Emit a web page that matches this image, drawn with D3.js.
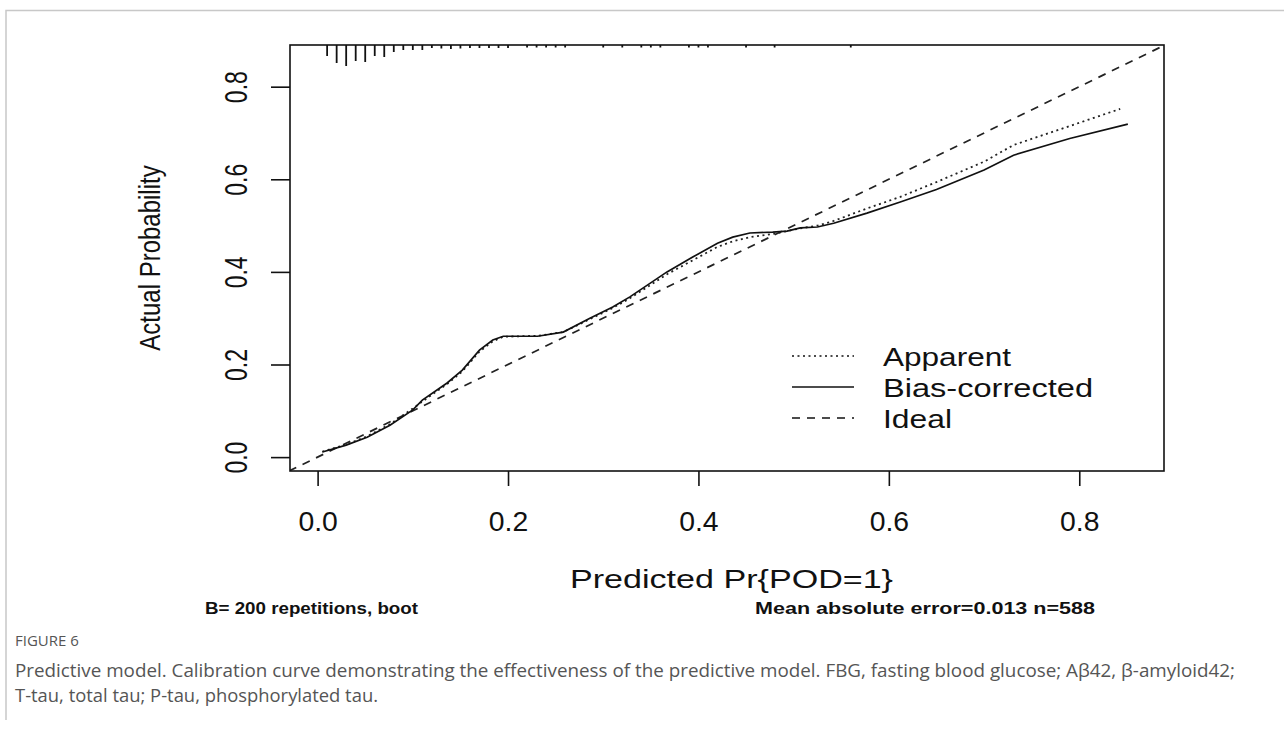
<!DOCTYPE html>
<html>
<head>
<meta charset="utf-8">
<script src="https://cdn.jsdelivr.net/npm/d3@7"></script>
<style>
  body { margin: 0; background: #fff; }
  text { font-family: "Liberation Sans", Arial, sans-serif; fill: #111; }
  .cap { font-family: "Open Sans", "Noto Sans", sans-serif; fill: #555; }
</style>
</head>
<body>
<div id="viz"></div>
<script>
// values
var xTicks = [0, 0.2, 0.4, 0.6, 0.8];
var yTicks = [0, 0.2, 0.4, 0.6, 0.8];

// bias-corrected curve
var biasX = [0.005, 0.03, 0.052, 0.076, 0.10, 0.11, 0.136, 0.152, 0.17, 0.184, 0.195, 0.231, 0.258, 0.286, 0.31, 0.328, 0.367, 0.394, 0.42, 0.436, 0.454, 0.478, 0.493, 0.507, 0.525, 0.542, 0.577, 0.612, 0.65, 0.70, 0.731, 0.79, 0.851];
var biasY = [0.011, 0.026, 0.043, 0.069, 0.102, 0.123, 0.160, 0.188, 0.231, 0.253, 0.261, 0.261, 0.270, 0.300, 0.324, 0.346, 0.400, 0.432, 0.462, 0.475, 0.484, 0.486, 0.488, 0.495, 0.497, 0.505, 0.527, 0.551, 0.578, 0.620, 0.652, 0.688, 0.719];

// apparent curve
var appX = [0.005, 0.03, 0.052, 0.076, 0.10, 0.11, 0.136, 0.152, 0.17, 0.184, 0.195, 0.231, 0.258, 0.286, 0.31, 0.328, 0.367, 0.394, 0.42, 0.436, 0.454, 0.478, 0.493, 0.507, 0.525, 0.542, 0.577, 0.612, 0.65, 0.70, 0.731, 0.79, 0.843];
var appY = [0.012, 0.027, 0.045, 0.071, 0.105, 0.120, 0.158, 0.185, 0.228, 0.250, 0.260, 0.262, 0.270, 0.298, 0.322, 0.343, 0.395, 0.425, 0.454, 0.466, 0.475, 0.482, 0.488, 0.494, 0.500, 0.510, 0.537, 0.562, 0.594, 0.638, 0.674, 0.715, 0.752];

// ideal line
var idealX = [-0.03, 0.89];
var idealY = [-0.03, 0.89];

// distribution of predicted risk (rug on top)
var rugX = [0.01, 0.02, 0.03, 0.04, 0.05, 0.06, 0.07, 0.08, 0.09, 0.10, 0.11, 0.12, 0.13, 0.14, 0.15, 0.16, 0.17, 0.18, 0.19, 0.20,
            0.22, 0.23, 0.24, 0.25, 0.26, 0.30, 0.32, 0.34, 0.35, 0.36, 0.39, 0.40, 0.41, 0.45, 0.48, 0.56];
var rugN = [11, 18, 21, 16, 17, 11, 12, 7, 5, 5, 5, 3, 3.5, 4, 3.5, 3, 3, 3, 3, 3,
            2.5, 2.5, 2.5, 2.5, 2.5, 2.5, 2.5, 2.5, 2.5, 2.5, 2.5, 2.5, 2.5, 2.5, 2.5, 2.5];

var legendNames = ['Apparent', 'Bias-corrected', 'Ideal'];
var captionLines = [
  'Predictive model. Calibration curve demonstrating the effectiveness of the predictive model. FBG, fasting blood glucose; A\u03b242, \u03b2-amyloid42;',
  'T-tau, total tau; P-tau, phosphorylated tau.'
];

var width = 1284;
var height = 731;
var box = { left: 290, right: 1164, top: 45, bottom: 471 };
var sx = 1.35; // the figure is stretched sideways

var svg = d3.select('#viz').append('svg')
    .attr('width', width)
    .attr('height', height);

// figure frame
svg.append('path')
    .attr('d', 'M6,720 V10.5 H1284')
    .attr('fill', 'none')
    .attr('stroke', '#c8c8c8')
    .attr('stroke-width', 1.5);

var x = d3.scaleLinear().domain([-0.029, 0.889]).range([box.left, box.right]);
var y = d3.scaleLinear().domain([-0.030, 0.890]).range([box.bottom, box.top]);

svg.append('clipPath').attr('id', 'clip')
  .append('rect')
    .attr('x', box.left).attr('y', box.top)
    .attr('width', box.right - box.left).attr('height', box.bottom - box.top);

var plot = svg.append('g').attr('clip-path', 'url(#clip)');

var line = d3.line()
    .x(function(d) { return x(d[0]); })
    .y(function(d) { return y(d[1]); });

function pairs(a, b) { return a.map(function(v, i) { return [v, b[i]]; }); }

plot.append('path')
    .attr('d', line(pairs(idealX, idealY)))
    .attr('fill', 'none').attr('stroke', '#222')
    .attr('stroke-width', 1.7).attr('stroke-dasharray', '8,7');

plot.append('path')
    .attr('d', line(pairs(appX, appY)))
    .attr('fill', 'none').attr('stroke', '#222')
    .attr('stroke-width', 1.8).attr('stroke-dasharray', '2,3.5');

plot.append('path')
    .attr('d', line(pairs(biasX, biasY)))
    .attr('fill', 'none').attr('stroke', '#111')
    .attr('stroke-width', 1.7);

// rug
var rugLen = d3.scaleLinear().domain([0, 21]).range([0, 21]);
plot.selectAll('.rug')
    .data(pairs(rugX, rugN))
    .enter().append('line')
    .attr('class', 'rug')
    .attr('x1', function(d) { return x(d[0]); })
    .attr('x2', function(d) { return x(d[0]); })
    .attr('y1', box.top)
    .attr('y2', function(d) { return box.top + rugLen(d[1]); })
    .attr('stroke', '#111')
    .attr('stroke-width', 1.8);

// box
svg.append('rect')
    .attr('x', box.left).attr('y', box.top)
    .attr('width', box.right - box.left).attr('height', box.bottom - box.top)
    .attr('fill', 'none').attr('stroke', '#111').attr('stroke-width', 1.6);

// x axis
var xAxis = svg.append('g')
    .attr('transform', 'translate(0,' + box.bottom + ')')
    .call(d3.axisBottom(x).tickValues(xTicks).tickFormat(d3.format('.1f')).tickSize(15).tickSizeOuter(0));
xAxis.select('.domain').remove();
xAxis.selectAll('line').attr('stroke', '#111').attr('stroke-width', 1.6);
xAxis.selectAll('text')
    .attr('y', null).attr('dy', null)
    .attr('transform', 'translate(0,60) scale(1.05,1)')
    .style('font-size', '27px')
    .style('font-family', '"Liberation Sans", Arial, sans-serif')
    .attr('fill', '#111');

// y axis
var yAxis = svg.append('g')
    .attr('transform', 'translate(' + box.left + ',0)')
    .call(d3.axisLeft(y).tickValues(yTicks).tickFormat(d3.format('.1f')).tickSize(19).tickSizeOuter(0));
yAxis.select('.domain').remove();
yAxis.selectAll('line').attr('stroke', '#111').attr('stroke-width', 1.6);
yAxis.selectAll('text')
    .attr('x', null).attr('dy', null)
    .attr('text-anchor', 'middle')
    .attr('transform', 'translate(-43,0) scale(' + sx + ',1) rotate(-90)')
    .style('font-size', '23px')
    .style('font-family', '"Liberation Sans", Arial, sans-serif')
    .attr('fill', '#111');

// axis titles
svg.append('text')
    .attr('transform', 'translate(160,258) scale(1.2,1) rotate(-90)')
    .attr('text-anchor', 'middle')
    .style('font-size', '24px')
    .text('Actual Probability');

svg.append('text')
    .attr('x', 570).attr('y', 588)
    .attr('textLength', 323).attr('lengthAdjust', 'spacingAndGlyphs')
    .style('font-size', '26px')
    .text('Predicted Pr{POD=1}');

svg.append('text')
    .attr('x', 205).attr('y', 614)
    .attr('textLength', 213).attr('lengthAdjust', 'spacingAndGlyphs')
    .style('font-size', '17px').style('font-weight', 'bold')
    .text('B= 200 repetitions, boot');

svg.append('text')
    .attr('x', 755).attr('y', 614)
    .attr('textLength', 340).attr('lengthAdjust', 'spacingAndGlyphs')
    .style('font-size', '17px').style('font-weight', 'bold')
    .text('Mean absolute error=0.013 n=588');

// legend
var legendDash = ['2,3.5', null, '8,7'];
var legendW = [128, 210, 69];
var leg = svg.append('g');
legendNames.forEach(function(name, i) {
  var by = 366 + i * 31;
  leg.append('line')
      .attr('x1', 792).attr('x2', 854)
      .attr('y1', by - 10).attr('y2', by - 10)
      .attr('stroke', '#111').attr('stroke-width', 1.7)
      .attr('stroke-dasharray', legendDash[i]);
  leg.append('text')
      .attr('x', 883).attr('y', by)
      .attr('textLength', legendW[i]).attr('lengthAdjust', 'spacingAndGlyphs')
      .style('font-size', '25px')
      .text(name);
});

// caption
svg.append('text')
    .attr('class', 'cap')
    .attr('x', 15).attr('y', 646)
    .style('font-size', '15px')
    .text('FIGURE 6');

var capW = [1220, 363];
captionLines.forEach(function(t, i) {
  svg.append('text')
      .attr('class', 'cap')
      .attr('x', 15).attr('y', 677 + i * 25)
      .attr('textLength', capW[i]).attr('lengthAdjust', 'spacingAndGlyphs')
      .style('font-size', '18px')
      .text(t);
});
</script>
</body>
</html>
